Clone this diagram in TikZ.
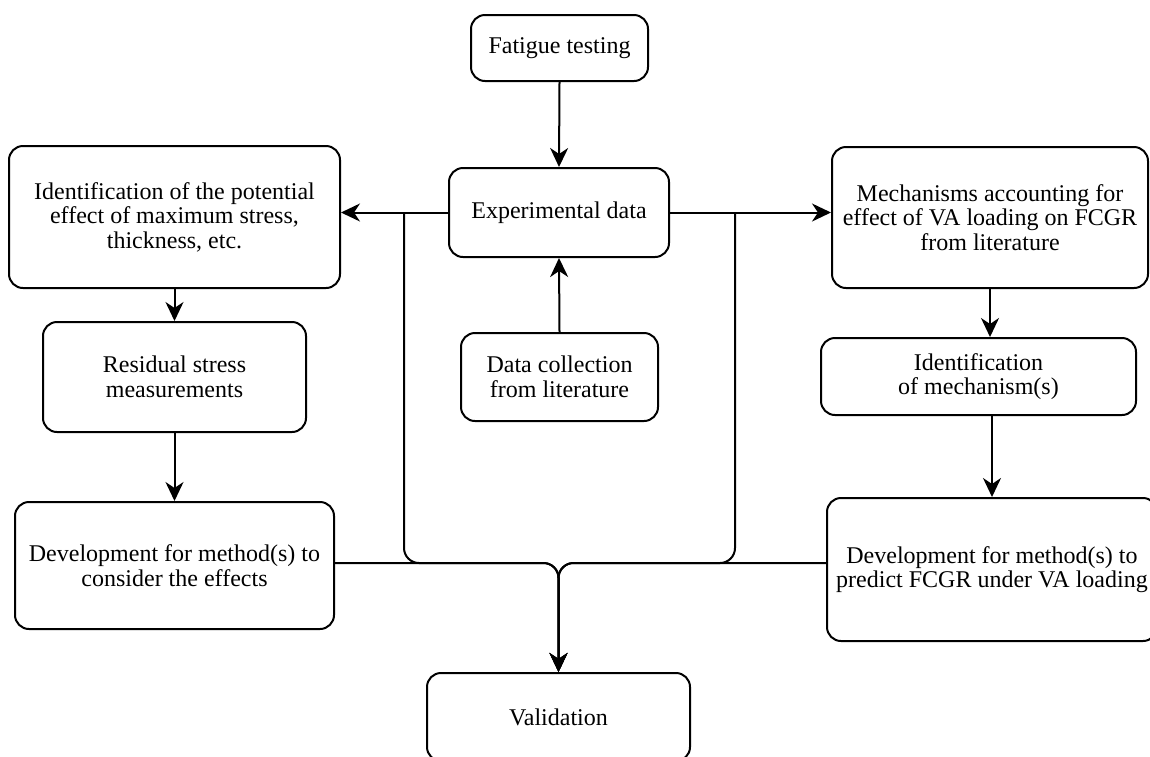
\documentclass[tikz,border=0pt]{standalone}
\usepackage{fontspec}
\setmainfont{Liberation Serif}
\usetikzlibrary{arrows.meta}
\begin{document}
\begin{tikzpicture}[x=1pt,y=-1pt,line width=2pt,
  box/.style={draw,rounded corners=14pt,inner sep=0pt,align=center,font=\fontsize{24}{24.5}\selectfont},
  arr/.style={-{Stealth[length=19pt,width=18pt,inset=6pt]}},
  junc/.style={arr,rounded corners=15pt}]
\useasboundingbox (0,0) rectangle (1150,756);
\clip (0,0) rectangle (1150,756);
% boxes
\node[box,minimum width=177pt,minimum height=66pt] (Fat) at (559.5,48) {Fatigue testing};
\node[box,minimum width=220pt,minimum height=89pt] (Exp) at (559,212.5) {Experimental data};
\node[box,minimum width=197pt,minimum height=88pt] (Col) at (559.5,377) {Data collection\\from literature};
\node[box,minimum width=331pt,minimum height=142pt] (IdL) at (174.5,217) {Identification of the potential\\effect of maximum stress,\\thickness, etc.};
\node[box,minimum width=263pt,minimum height=110pt] (Res) at (174.5,377) {Residual stress\\measurements};
\node[box,minimum width=319pt,minimum height=127pt] (DevL) at (174.5,565.5) {Development for method(s) to\\consider the effects};
\node[box,minimum width=316pt,minimum height=141pt] (Mech) at (990,217.5) {Mechanisms accounting for\\effect of VA loading on FCGR\\from literature};
\node[box,minimum width=315pt,minimum height=77pt] (MId) at (978.5,376.5) {Identification\\of mechanism(s)};
\node[box,minimum width=330pt,minimum height=143pt] (DevR) at (992,569.5) {Development for method(s) to\\predict FCGR under VA loading};
\node[box,minimum width=263pt,minimum height=88pt] (Val) at (558.5,717) {Validation};
% helper coordinates
\path (Exp.west) ++(-44,0) coordinate (bl);
\path (Exp.east) ++(65,0) coordinate (br);
\coordinate (j) at (558.5,563);
% connectors
\draw[arr] (Fat.south) -- (Exp.north);
\draw[arr] (Col.north) -- (Exp.south);
\draw[arr] (Exp.west) -- (Exp.west -| IdL.east);
\draw[arr] (Exp.east) -- (Exp.east -| Mech.west);
\draw[arr] (IdL.south) -- (Res.north);
\draw[arr] (Res.south) -- (DevL.north);
\draw[arr] (Mech.south) -- (Mech.south |- MId.north);
\draw[arr] (MId.south -| DevR.north) -- (DevR.north);
\draw[junc] (bl) |- (j) -- (Val.north);
\draw[junc] (br) |- (j) -- (Val.north);
\draw[junc] (DevL.east |- j) -- (j) -- (Val.north);
\draw[junc] (DevR.west |- j) -- (j) -- (Val.north);
\end{tikzpicture}
\end{document}
